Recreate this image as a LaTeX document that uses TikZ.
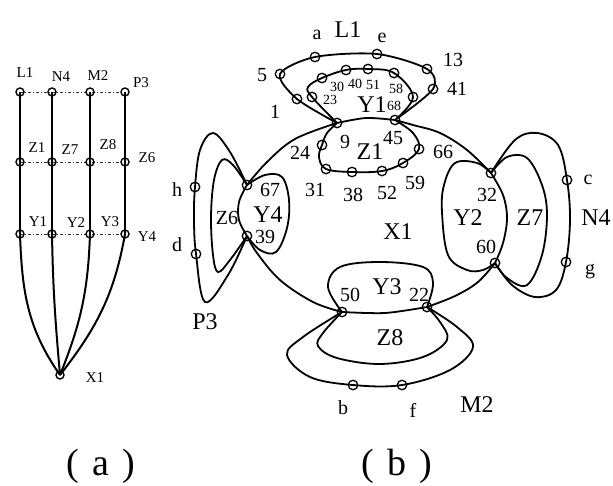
\documentclass[tikz,border=0pt]{standalone}
\usepackage{fontspec}
\setmainfont{Liberation Serif}
\begin{document}
\begin{tikzpicture}[x=1pt,y=-1pt,
  curve/.style={line width=1.8pt},
  vline/.style={line width=2pt},
  ddline/.style={line width=0.7pt,dash pattern=on 3pt off 2pt on 1pt off 2pt,black!80},
  pta/.style={circle,draw,line width=1.4pt,minimum size=8pt,inner sep=0pt},
  ptb/.style={circle,draw,line width=1.3pt,minimum size=9.5pt,inner sep=0pt},
  alab/.style={font=\fontsize{15}{17}\selectfont,inner sep=0pt},
  biglab/.style={font=\fontsize{24}{26}\selectfont,inner sep=0pt},
  numlab/.style={font=\fontsize{20}{22}\selectfont,inner sep=0pt},
  tinylab/.style={font=\fontsize{14}{16}\selectfont,inner sep=0pt},
  captxt/.style={font=\fontsize{38}{42}\selectfont,inner sep=0pt}]
\useasboundingbox (0,0) rectangle (613,485);

% ---------------- (a) ----------------
\coordinate (aL1) at (20,92);  \coordinate (aN4) at (52,92);
\coordinate (aM2) at (90,92);  \coordinate (aP3) at (125,92);
\coordinate (aZ1) at (20,162); \coordinate (aZ7) at (52,162);
\coordinate (aZ8) at (90,162); \coordinate (aZ6) at (125,162);
\coordinate (aY1) at (20,234); \coordinate (aY2) at (52,234);
\coordinate (aY3) at (90,234); \coordinate (aY4) at (125,234);
\coordinate (aX1) at (60,375);

\draw[ddline] (aL1) -- (aN4) -- (aM2) -- (aP3);
\draw[ddline] (aZ1) -- (aZ7) -- (aZ8) -- (aZ6);
\draw[ddline] (aY1) -- (aY2) -- (aY3) -- (aY4);
\draw[vline] (aL1) -- (aZ1) -- (aY1);
\draw[vline] (aN4) -- (aZ7) -- (aY2);
\draw[vline] (aM2) -- (aZ8) -- (aY3);
\draw[vline] (aP3) -- (aZ6) -- (aY4);
\draw[vline] (aY1) to[out=-88,in=125] (aX1);
\draw[vline] (aY2) to[out=-89,in=95] (aX1);
\draw[vline] (aY3) to[out=-92,in=68] (aX1);
\draw[vline] (aY4) to[out=-100,in=52] (aX1);

\foreach \p in {aL1,aN4,aM2,aP3,aZ1,aZ7,aZ8,aZ6,aY1,aY2,aY3,aY4,aX1}
  \node[pta] (n\p) at (\p) {};

\node[alab] (laL1) at (25,73) {L1};
\node[alab] (laN4) at (61,77) {N4};
\node[alab] (laM2) at (98,76) {M2};
\node[alab] (laP3) at (141,83) {P3};
\node[alab] (laZ1) at (37,148) {Z1};
\node[alab] (laZ7) at (70,150) {Z7};
\node[alab] (laZ8) at (108,145) {Z8};
\node[alab] (laZ6) at (147,158) {Z6};
\node[alab] (laY1) at (38,222) {Y1};
\node[alab] (laY2) at (76,223) {Y2};
\node[alab] (laY3) at (110,222) {Y3};
\node[alab] (laY4) at (147,237) {Y4};
\node[alab] (laX1) at (95,378) {X1};

\node[captxt] (capa) at (101,466) {(\hspace{0.35em}a\hspace{0.35em})};

% ---------------- (b) ----------------
\coordinate (b67) at (247,185);
\coordinate (b39) at (247,236);
\coordinate (b9)  at (337,123);
\coordinate (b45) at (395,120);
\coordinate (b32) at (491,173);
\coordinate (b60) at (495,263);
\coordinate (b22) at (427,307);
\coordinate (b50) at (342,312);
\coordinate (b1)  at (297,99);
\coordinate (b5)  at (280,74);
\coordinate (ba)  at (315,57);
\coordinate (be)  at (377,54);
\coordinate (b13) at (427,69);
\coordinate (b41) at (433,89);
\coordinate (b23) at (312,97);
\coordinate (b30) at (322,78);
\coordinate (b40) at (346,70);
\coordinate (b51) at (368,69);
\coordinate (b58) at (394,73);
\coordinate (b68) at (413,97);
\coordinate (b24) at (322,145);
\coordinate (b31) at (326,169);
\coordinate (b38) at (352,172);
\coordinate (b52) at (382,171);
\coordinate (b59) at (403,163);
\coordinate (b66) at (419,149);
\coordinate (bh)  at (195,187);
\coordinate (bd)  at (196,254);
\coordinate (bc)  at (567,180);
\coordinate (bg)  at (566,262);
\coordinate (bb)  at (353,385);
\coordinate (bf)  at (402,385);

% X1 outline
\draw[curve] plot[smooth,tension=0.6] coordinates {(b67) (267,162) (295,139) (b9)};
\draw[curve] plot[smooth] coordinates {(b9) (366,118) (b45)};
\draw[curve] plot[smooth,tension=0.6] coordinates {(b45) (413,125) (440,133) (467,150) (b32)};
\draw[curve] plot[smooth,tension=0.6] coordinates {(b32) (503,195) (507,218) (503,243) (b60)};
\draw[curve] plot[smooth,tension=0.6] coordinates {(b60) (478,282) (455,296) (b22)};
\draw[curve] plot[smooth] coordinates {(b22) (385,313) (b50)};
\draw[curve] plot[smooth,tension=0.6] coordinates {(b50) (313,302) (280,280) (257,253) (b39)};
\draw[curve] plot[smooth,tension=0.6] coordinates {(b39) (239,220) (239,202) (b67)};
% Y4, Z6, P3
\draw[curve] plot[smooth,tension=0.6] coordinates {(b67) (265,175) (282,177) (289,200) (287,228) (276,252) (260,250) (b39)};
\draw[curve] plot[smooth,tension=0.6] coordinates {(b67) (233,165) (222,160) (214,180) (211,217) (213,255) (218,272) (230,260) (b39)};
\draw[curve] plot[smooth,tension=0.6] coordinates {(b67) (230,152) (213,133) (200,150) (bh) (194,220) (bd) (205,302) (228,275) (b39)};
% Y1, L1, Z1
\draw[curve] plot[smooth,tension=0.6] coordinates {(b9) (b23) (308,87) (b30) (b40) (b51) (b58) (b68) (b45)};
\draw[curve] plot[smooth,tension=0.5] coordinates {(b9) (b1) (b5) (ba) (be) (b13) (b41) (b45)};
\draw[curve] plot[smooth,tension=0.6] coordinates {(b9) (327,133) (b24) (319,157) (b31) (b38) (b52) (b59) (b66) (413,133) (b45)};
% Y2, Z7, N4
\draw[curve] plot[smooth,tension=0.6] coordinates {(b32) (477,163) (455,163) (444,185) (442,212) (448,255) (467,270) (483,270) (b60)};
\draw[curve] plot[smooth,tension=0.6] coordinates {(b32) (507,157) (527,158) (542,185) (547,215) (542,255) (527,285) (507,278) (b60)};
\draw[curve] plot[smooth,tension=0.6] coordinates {(b32) (515,140) (537,133) (558,145) (bc) (570,220) (bg) (556,290) (535,297) (512,285) (b60)};
% Y3, Z8, M2
\draw[curve] plot[smooth,tension=0.6] coordinates {(b50) (328,287) (340,267) (380,262) (423,267) (433,283) (b22)};
\draw[curve] plot[smooth,tension=0.6] coordinates {(b50) (323,333) (318,346) (337,358) (380,364) (423,357) (447,340) (440,322) (b22)};
\draw[curve] plot[smooth,tension=0.6] coordinates {(b50) (303,337) (287,355) (310,377) (bb) (bf) (450,370) (473,347) (457,327) (b22)};

\foreach \p in {b67,b39,b9,b45,b32,b60,b22,b50,b1,b5,ba,be,b13,b41,b23,b30,b40,b51,b58,b68,b24,b31,b38,b52,b59,b66,bh,bd,bc,bg,bb,bf}
  \node[ptb] (n\p) at (\p) {};

% labels (b)
\node[biglab] (lL1) at (348,30) {L1};
\node[biglab] (lY1) at (372,105) {Y1};
\node[biglab] (lZ1) at (370,152) {Z1};
\node[biglab] (lY4) at (268,215) {Y4};
\node[biglab] (lX1) at (398,232) {X1};
\node[biglab] (lY2) at (468,218) {Y2};
\node[biglab] (lZ7) at (530,218) {Z7};
\node[biglab] (lN4) at (596,218) {N4};
\node[biglab] (lY3) at (387,287) {Y3};
\node[biglab] (lZ8) at (390,338) {Z8};
\node[biglab] (lM2) at (477,405) {M2};
\node[biglab] (lP3) at (205,322) {P3};
\node[numlab] (lZ6) at (227,218) {Z6};

\node[numlab] (la) at (317,35) {a};
\node[numlab] (le) at (382,38) {e};
\node[numlab] (l5) at (262,75) {5};
\node[numlab] (l1) at (275,112) {1};
\node[numlab] (l13) at (453,60) {13};
\node[numlab] (l41) at (457,89) {41};
\node[numlab] (l9) at (345,142) {9};
\node[numlab] (l45) at (393,138) {45};
\node[numlab] (l24) at (300,153) {24};
\node[numlab] (l66) at (443,152) {66};
\node[numlab] (l59) at (415,183) {59};
\node[numlab] (l31) at (315,190) {31};
\node[numlab] (l38) at (353,195) {38};
\node[numlab] (l52) at (387,193) {52};
\node[numlab] (l67) at (270,190) {67};
\node[numlab] (l39) at (265,237) {39};
\node[numlab] (l32) at (487,195) {32};
\node[numlab] (l60) at (486,247) {60};
\node[numlab] (l50) at (350,295) {50};
\node[numlab] (l22) at (419,295) {22};
\node[numlab] (lc) at (588,180) {c};
\node[numlab] (lg) at (590,272) {g};
\node[numlab] (lh) at (177,190) {h};
\node[numlab] (ld) at (177,245) {d};
\node[numlab] (lb) at (343,408) {b};
\node[numlab] (lf) at (413,410) {f};

\node[tinylab] (l23) at (330,100) {23};
\node[tinylab] (l30) at (337,87) {30};
\node[tinylab] (l40) at (355,84) {40};
\node[tinylab] (l51) at (373,85) {51};
\node[tinylab] (l58) at (396,89) {58};
\node[tinylab] (l68) at (394,106) {68};

\node[captxt] (capb) at (397,466) {(\hspace{0.35em}b\hspace{0.35em})};
\end{tikzpicture}
\end{document}
